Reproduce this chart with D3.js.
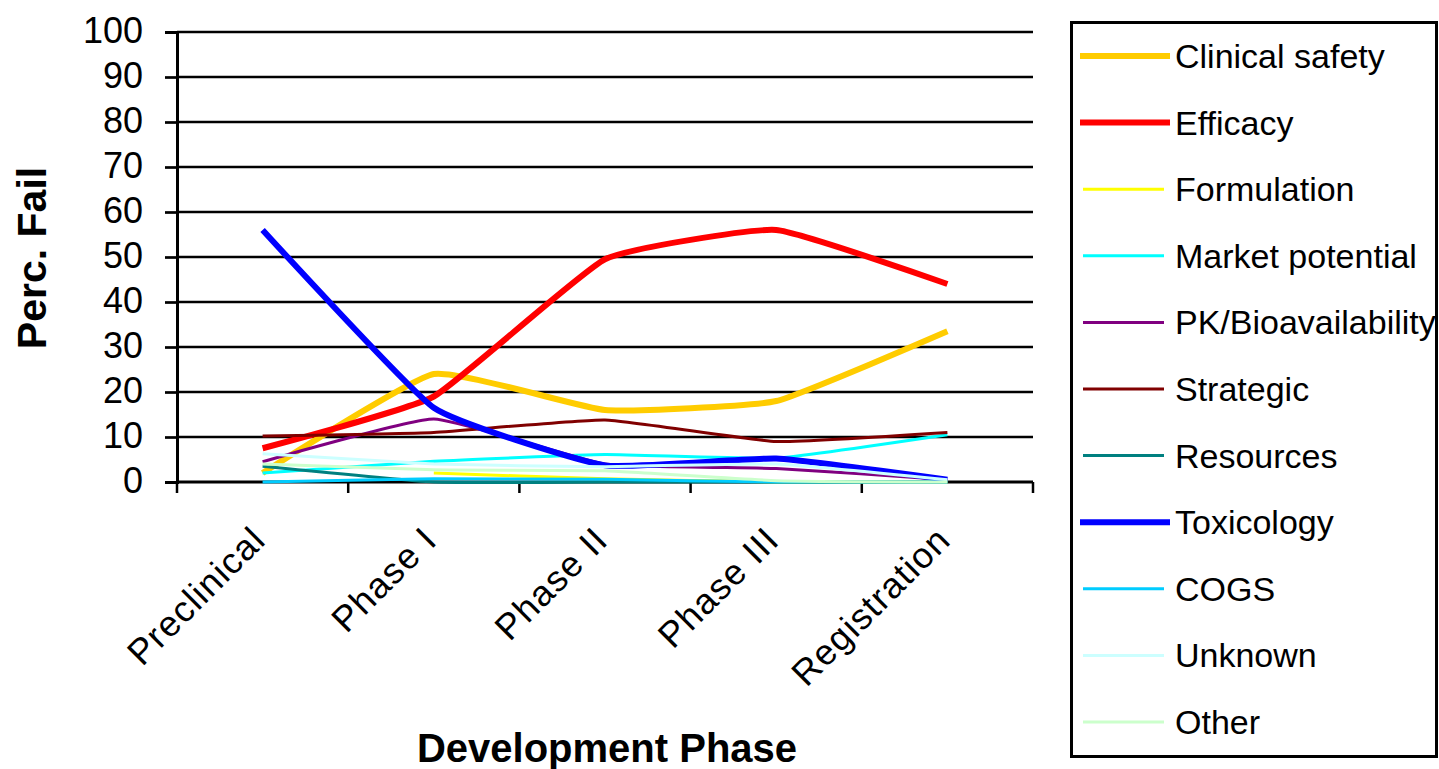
<!DOCTYPE html>
<html>
<head>
<meta charset="utf-8">
<script src="https://cdn.jsdelivr.net/npm/d3@7"></script>
<style>
  html, body { margin: 0; padding: 0; background: #fff; }
  svg { display: block; font-family: "Liberation Sans", Arial, sans-serif; }
</style>
</head>
<body>
<svg id="chart" width="1439" height="769"></svg>
<script>
// Development phases on the x axis
const categories = ["Preclinical", "Phase I", "Phase II", "Phase III", "Registration"];

// Percentage of failures attributed to each reason, per phase
const clinicalSafety    = [2, 24, 16, 18, 33.5];
const efficacy          = [7.5, 19, 49.5, 56, 44];
const formulation       = [null, 2, 0.7, 0, 0];
const marketPotential   = [2, 4.6, 6.1, 5.3, 10.5];
const pkBioavailability = [4.5, 14, 4, 3, 0.5];
const strategic         = [10.2, 11, 13.8, 9, 11];
const resources         = [3.5, 0, 0, 0, 0];
const toxicology        = [56, 16.5, 3.7, 5.2, 0.5];
const cogs              = [0, 0.7, 0.6, 0, 0];
const unknown           = [6.3, 4, 3.4, 4, 0.5];
const other             = [4, 2.7, 2.5, 0.3, 0];

const seriesNames = ["Clinical safety", "Efficacy", "Formulation", "Market potential",
  "PK/Bioavailability", "Strategic", "Resources", "Toxicology", "COGS", "Unknown", "Other"];
const seriesValues = [clinicalSafety, efficacy, formulation, marketPotential,
  pkBioavailability, strategic, resources, toxicology, cogs, unknown, other];
const seriesColors = ["#FFCC00", "#FF0000", "#FFFF00", "#00FFFF", "#800080", "#800000",
  "#008080", "#0000FF", "#00CCFF", "#CCFFFF", "#CCFFCC"];
const thickSeries = ["Clinical safety", "Efficacy", "Toxicology"];

const yTicks = [0, 10, 20, 30, 40, 50, 60, 70, 80, 90, 100];

const svg = d3.select("#chart");

const plot = { left: 177, right: 1033, top: 32, bottom: 482 };

const x = d3.scaleBand().domain(categories).range([plot.left, plot.right]);
const y = d3.scaleLinear().domain([0, 100]).range([plot.bottom, plot.top]);
const cx = c => x(c) + x.bandwidth() / 2;

// Horizontal gridlines
svg.append("g").selectAll("line").data(yTicks.filter(t => t > 0)).join("line")
  .attr("x1", plot.left).attr("x2", plot.right)
  .attr("y1", d => y(d)).attr("y2", d => y(d))
  .attr("stroke", "#000").attr("stroke-width", 2.7);

// Y axis
const yAxis = d3.axisLeft(y).tickValues(yTicks).tickSize(12).tickPadding(22);
const gy = svg.append("g").attr("transform", `translate(${plot.left},0)`).call(yAxis);
gy.select(".domain").attr("stroke", "#000").attr("stroke-width", 3);
gy.selectAll(".tick line").attr("stroke", "#000").attr("stroke-width", 2.7);
gy.selectAll(".tick text").attr("font-size", 36).attr("fill", "#000")
  .attr("font-family", "Liberation Sans, Arial, sans-serif").attr("dy", "0.3em");

// X axis line with tick marks between categories
const gx = svg.append("g");
gx.append("line").attr("x1", plot.left).attr("x2", plot.right)
  .attr("y1", plot.bottom).attr("y2", plot.bottom)
  .attr("stroke", "#000").attr("stroke-width", 3);
const edges = categories.map(c => x(c)).concat([x(categories[categories.length - 1]) + x.step()]);
gx.selectAll("line.tick").data(edges).join("line").attr("class", "tick")
  .attr("x1", d => d).attr("x2", d => d)
  .attr("y1", plot.bottom).attr("y2", plot.bottom + 11)
  .attr("stroke", "#000").attr("stroke-width", 2.5);

// Rotated category labels
gx.selectAll("text").data(categories).join("text")
  .attr("transform", d => `translate(${cx(d) + 5},542) rotate(-45)`)
  .attr("text-anchor", "end")
  .attr("font-size", 36).attr("letter-spacing", 1.2).attr("fill", "#000")
  .text(d => d);

// Series lines (smoothed)
const line = d3.line()
  .defined(d => d.v !== null)
  .x(d => cx(d.c))
  .y(d => y(d.v))
  .curve(d3.curveCardinal.tension(0.6));

const lines = svg.append("g").attr("fill", "none");
seriesNames.forEach((name, i) => {
  const pts = categories.map((c, j) => ({ c, v: seriesValues[i][j] }));
  lines.append("path")
    .datum(pts)
    .attr("d", line)
    .attr("stroke", seriesColors[i])
    .attr("stroke-width", thickSeries.includes(name) ? 6 : 3)
    .attr("stroke-linejoin", "round");
});

// Axis titles
svg.append("text")
  .attr("transform", `translate(46,258) rotate(-90)`)
  .attr("text-anchor", "middle")
  .attr("font-size", 41).attr("font-weight", "bold")
  .text("Perc. Fail");

svg.append("text")
  .attr("x", 607).attr("y", 762)
  .attr("text-anchor", "middle")
  .attr("font-size", 40).attr("font-weight", "bold")
  .text("Development Phase");

// Legend
const legend = svg.append("g");
legend.append("rect")
  .attr("x", 1071.5).attr("y", 22.5).attr("width", 365).attr("height", 734)
  .attr("fill", "#fff").attr("stroke", "#000").attr("stroke-width", 3);

const rowY = d3.scaleLinear().domain([0, seriesNames.length - 1]).range([56, 722]);
seriesNames.forEach((name, i) => {
  const thick = thickSeries.includes(name);
  legend.append("line")
    .attr("x1", thick ? 1080 : 1083).attr("x2", thick ? 1170 : 1164)
    .attr("y1", rowY(i)).attr("y2", rowY(i))
    .attr("stroke", seriesColors[i]).attr("stroke-width", thick ? 6 : 3);
  legend.append("text")
    .attr("x", 1175).attr("y", rowY(i)).attr("dy", "0.35em")
    .attr("font-size", 34).attr("fill", "#000")
    .text(name);
});
</script>
</body>
</html>
